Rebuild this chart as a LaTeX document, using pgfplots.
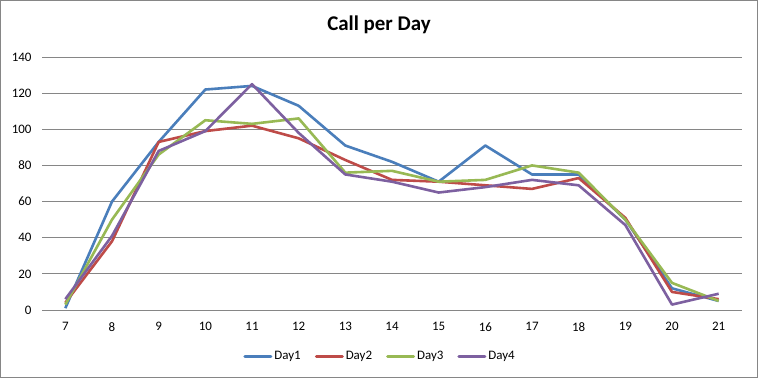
\documentclass[border=0pt]{standalone}
\usepackage{fontspec}
\setmainfont{Carlito}
\usepackage{pgfplots}
\pgfplotsset{compat=1.18}
\definecolor{cA}{HTML}{4A7EBB}
\definecolor{cB}{HTML}{BE4B48}
\definecolor{cC}{HTML}{98B954}
\definecolor{cD}{HTML}{7D60A0}
\definecolor{gridc}{HTML}{868686}
\begin{document}
\begin{tikzpicture}
\useasboundingbox (0,0) rectangle (758bp,378bp);
\fill[white] (0,0) rectangle (758bp,378bp);
\draw[gridc, line width=0.9bp] (0.6bp,0.6bp) rectangle (757.4bp,377.4bp);
\node[anchor=base, font=\fontsize{21}{24}\selectfont\bfseries] at (379bp,347bp) {Call per Day};
\begin{axis}[
  at={(42bp,68bp)}, anchor=south west,
  scale only axis, width=700bp, height=253bp,
  xmin=6.5, xmax=21.5, ymin=0, ymax=140,
  xtick={7,...,21}, ytick={0,20,...,140},
  axis line style={draw=none}, tick style={draw=none},
  ymajorgrids, major grid style={gridc, line width=0.8bp},
  /pgf/number format/assume math mode=true,
  tick label style={font=\fontsize{13}{15}\selectfont},
  yticklabel style={xshift=-7bp},
  xticklabel style={yshift=-9bp},
  clip=false,
  legend style={draw=none, fill=none, at={(0.483,-0.182)}, anchor=center,
    legend columns=4, font=\fontsize{13}{15}\selectfont,
    /tikz/every even column/.append style={column sep=12bp},
    inner sep=0pt},
  legend image code/.code={\draw[#1, line width=3bp, line cap=round] (0bp,0bp) -- (26bp,0bp);},
  every axis plot/.append style={line width=2.6bp, line join=round, no markers},
]
\addplot[cA] coordinates {(7,1) (8,60) (9,93) (10,122) (11,124) (12,113) (13,91) (14,82) (15,71) (16,91) (17,75) (18,75) (19,50) (20,12) (21,5)};
\addplot[cB] coordinates {(7,4) (8,38) (9,93) (10,99) (11,102) (12,95) (13,83) (14,72) (15,71) (16,69) (17,67) (18,73) (19,51) (20,10) (21,6)};
\addplot[cC] coordinates {(7,3) (8,50) (9,86) (10,105) (11,103) (12,106) (13,76) (14,77) (15,71) (16,72) (17,80) (18,76) (19,50) (20,15) (21,5)};
\addplot[cD] coordinates {(7,6) (8,41) (9,88) (10,99) (11,125) (12,98) (13,75) (14,71) (15,65) (16,68) (17,72) (18,69) (19,47) (20,3) (21,9)};
\legend{Day1,Day2,Day3,Day4}
\end{axis}
\end{tikzpicture}
\end{document}
